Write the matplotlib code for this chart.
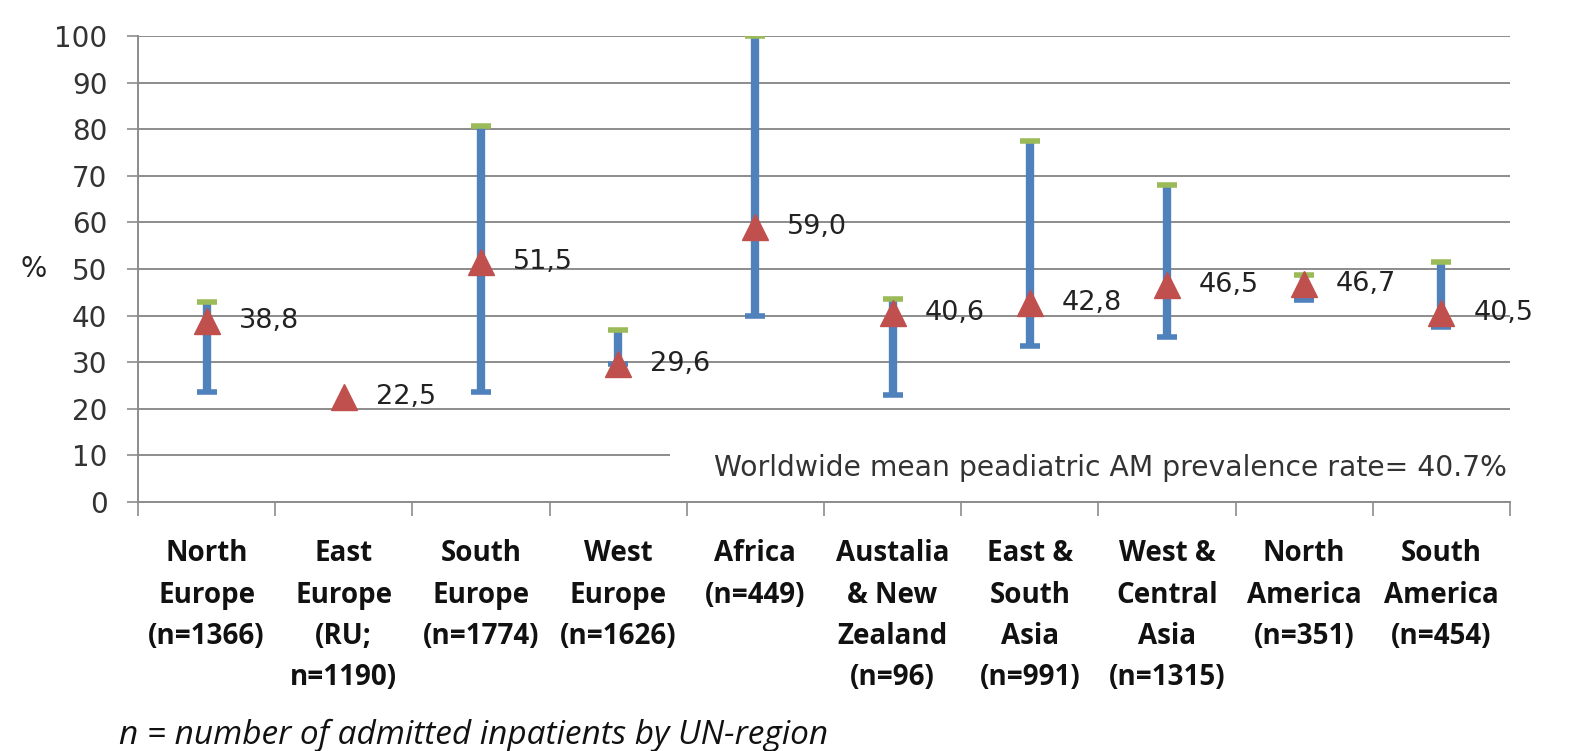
import matplotlib.pyplot as plt
import numpy as np
from matplotlib.patches import Rectangle

plt.rcParams['font.family'] = ['DejaVu Sans']

regions = ["North\nEurope\n(n=1366)", "East\nEurope\n(RU;\nn=1190)", "South\nEurope\n(n=1774)",
           "West\nEurope\n(n=1626)", "Africa\n(n=449)", "Austalia\n& New\nZealand\n(n=96)",
           "East &\nSouth\nAsia\n(n=991)", "West &\nCentral\nAsia\n(n=1315)",
           "North\nAmerica\n(n=351)", "South\nAmerica\n(n=454)"]
mean = [38.8, 22.5, 51.5, 29.6, 59.0, 40.6, 42.8, 46.5, 46.7, 40.5]
low = [23.5, np.nan, 23.5, 29.6, 40.0, 23.0, 33.5, 35.5, 43.3, 37.5]
high = [43.0, np.nan, 80.6, 37.0, 100.0, 43.5, 77.5, 68.0, 48.8, 51.5]
labels = ["38,8", "22,5", "51,5", "29,6", "59,0", "40,6", "42,8", "46,5", "46,7", "40,5"]

blue = "#4F81BD"
green = "#9BBB59"
red = "#C0504D"
grid = "#8c8c8c"

fig = plt.figure(figsize=(15.84, 7.51), dpi=100)
ax = fig.add_axes([0.0871, 0.3316, 0.8662, 0.6205])
x = np.arange(len(regions))

ax.set_ylim(0, 100)
ax.set_xlim(-0.5, len(regions) - 0.5)
ax.set_yticks(range(0, 101, 10))
ax.yaxis.grid(True, color=grid, linewidth=1.4)
ax.set_axisbelow(True)

ax.vlines(x, low, high, color=blue, linewidth=6, zorder=3)
ax.plot(x, low, linestyle='none', marker='_', markersize=14, markeredgewidth=4,
        color=blue, zorder=3)
ax.plot(x, high, linestyle='none', marker='_', markersize=14, markeredgewidth=4,
        color=green, zorder=3)
ax.plot(x, mean, linestyle='none', marker='^', markersize=19, color=red, zorder=4)

for xi, m, t in zip(x, mean, labels):
    ax.annotate(t, (xi, m), xytext=(23, 0), textcoords='offset points',
                va='center', ha='left', fontsize=19.5, color='#222222', zorder=5)

# white box behind the note hides the 10% gridline
ax.add_patch(Rectangle((0.388, 0.05), 0.612, 0.07, transform=ax.transAxes,
                       facecolor='white', edgecolor='none', zorder=1))
ax.text(0.998, 0.072, "Worldwide mean peadiatric AM prevalence rate= 40.7%",
        transform=ax.transAxes, ha='right', va='center', fontsize=20.3, color='#333333',
        zorder=2)

for s in ['top', 'right']:
    ax.spines[s].set_visible(False)
for s in ['left', 'bottom']:
    ax.spines[s].set_color(grid)
    ax.spines[s].set_linewidth(1.4)

ax.set_xticks(np.arange(-0.5, len(regions), 1.0))
ax.set_xticklabels([])
ax.tick_params(axis='x', which='major', length=10, color=grid, width=1.2)
ax.set_xticks(x, minor=True)
ax.set_xticklabels(regions, minor=True, fontsize=20, fontweight='bold', linespacing=1.55,
                   color='#111111', family='Open Sans')
ax.tick_params(axis='x', which='minor', length=0, pad=27)
ax.tick_params(axis='y', length=8, color=grid, width=1.2, labelsize=20,
               labelcolor='#333333', pad=14)

ax.set_ylabel("%", rotation=0, fontsize=20, labelpad=15, va='center', color='#222222')

fig.text(0.075, 0.009, "n = number of admitted inpatients by UN-region",
         fontsize=24, style='italic', color='#111111', family='Open Sans',
         va='baseline')

fig.savefig("out.png", dpi=100)
